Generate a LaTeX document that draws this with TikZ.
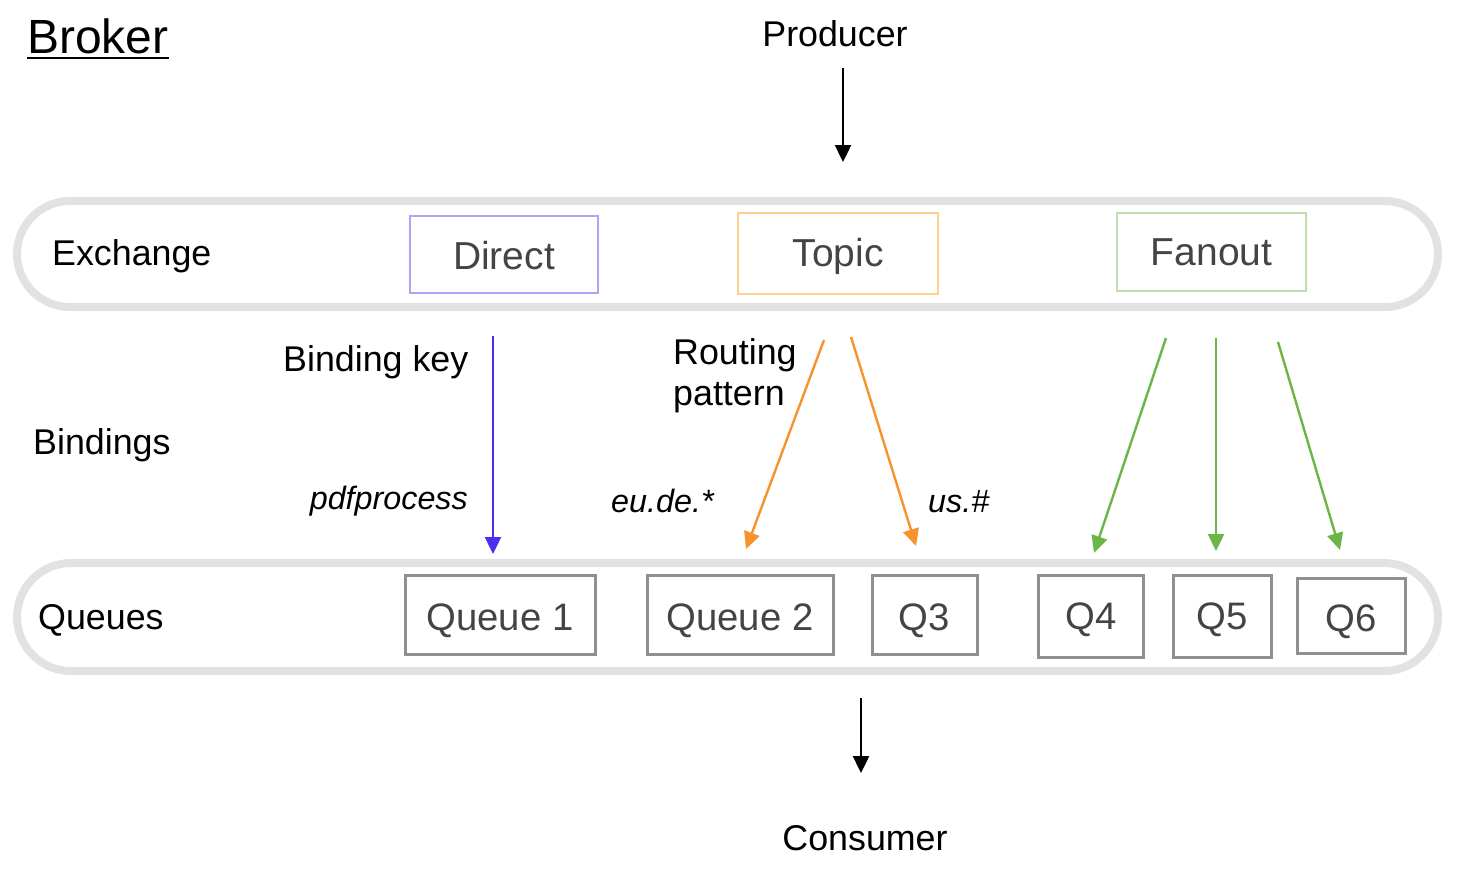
\documentclass[tikz,border=0pt]{standalone}
\usepackage{fontspec}
\setmainfont{Liberation Sans}
\usetikzlibrary{arrows.meta}
\definecolor{bandgray}{HTML}{E1E2E4}
\definecolor{boxgray}{HTML}{8E8F93}
\definecolor{txtgray}{HTML}{444444}
\definecolor{directc}{HTML}{ADA4F4}
\definecolor{topicc}{HTML}{FBD18E}
\definecolor{fanoutc}{HTML}{BCDFAC}
\definecolor{bluearr}{HTML}{4A2FF2}
\definecolor{orangearr}{HTML}{F7922C}
\definecolor{greenarr}{HTML}{6BB646}
\begin{document}
\begin{tikzpicture}[x=1pt,y=-1pt,
  lbl/.style={inner sep=0pt,font=\fontsize{35.8}{40}\selectfont},
  ital/.style={inner sep=0pt,font=\fontsize{32.3}{38}\selectfont\itshape},
  band/.style={draw=bandgray,line width=8pt},
  exbox/.style={draw,line width=2.5pt,inner sep=0pt},
  extext/.style={text=txtgray,inner sep=0pt,anchor=base,font=\fontsize{39}{42}\selectfont},
  qbox/.style={draw=boxgray,line width=3pt,inner sep=0pt},
  qtext/.style={text=txtgray,inner sep=0pt,anchor=base,font=\fontsize{38.3}{42}\selectfont},
  flow/.style={line width=2.4pt,-{Triangle[length=17pt,width=16pt]}}]
\useasboundingbox (0,0) rectangle (1458,868);

% rounded bands for exchanges and queues
\draw[band,rounded corners=53pt] (17,201) rectangle (1438,307);
\draw[band,rounded corners=54pt] (17,563) rectangle (1438,671);

% title
\node[inner sep=0pt,anchor=base west,font=\fontsize{48}{52}\selectfont] (broker) at (27,53) {Broker};
\draw[line width=2pt] ([yshift=-5pt]broker.base west) -- ([yshift=-5pt]broker.base east);

% row labels
\node[lbl,anchor=base] (producer) at (835,46) {Producer};
\node[lbl,anchor=base west] (exchange) at (52,265) {Exchange};
\node[lbl,anchor=base west] (bindings) at (33,454) {Bindings};
\node[lbl,anchor=base west] (queues) at (38,629) {Queues};
\node[lbl,anchor=base] (consumer) at (865,850) {Consumer};

% exchanges
\node[exbox,draw=directc,minimum width=188pt,minimum height=77pt] (direct) at (504,254.5) {};
\node[extext] (directlbl) at (504,269) {Direct};
\node[exbox,draw=topicc,minimum width=200pt,minimum height=81pt] (topic) at (838,253.5) {};
\node[extext] (topiclbl) at (838,266) {Topic};
\node[exbox,draw=fanoutc,minimum width=189pt,minimum height=78pt] (fanout) at (1211.5,252) {};
\node[extext] (fanoutlbl) at (1211.5,265) {Fanout};

% queues
\node[qbox,minimum width=190pt,minimum height=79pt] (q1) at (500,614.5) {};
\node[qtext] (q1lbl) at (500,630) {Queue 1};
\node[qbox,minimum width=186pt,minimum height=79pt] (q2) at (740,614.5) {};
\node[qtext] (q2lbl) at (740,630) {Queue 2};
\node[qbox,minimum width=105pt,minimum height=79pt] (q3) at (924.5,614.5) {};
\node[qtext] (q3lbl) at (924.5,630) {Q3};
\node[qbox,minimum width=105pt,minimum height=82pt] (q4) at (1091,616) {};
\node[qtext] (q4lbl) at (1091,629) {Q4};
\node[qbox,minimum width=98pt,minimum height=82pt] (q5) at (1222,616) {};
\node[qtext] (q5lbl) at (1222,629) {Q5};
\node[qbox,minimum width=108pt,minimum height=75pt] (q6) at (1351,616) {};
\node[qtext] (q6lbl) at (1351,631) {Q6};

% binding labels
\node[lbl,anchor=base west] (bkey) at (283,371) {Binding key};
\node[lbl,anchor=base west] (rout) at (673,364) {Routing};
\node[lbl,anchor=base west] (patt) at (673,405) {pattern};
\node[ital,anchor=base east] (pdf) at (468,509) {pdfprocess};
\node[ital,anchor=base west] (eude) at (611,512) {eu.de.*};
\node[ital,anchor=base west] (ush) at (928,512) {us.\#};

% arrow end points
\coordinate (pa) at (843,68);  \coordinate (pb) at (843,162);
\coordinate (ca) at (861,698); \coordinate (cb) at (861,773);
\coordinate (d1) at (493,336); \coordinate (d2) at (493,554);
\coordinate (t1) at (824,340); \coordinate (t2) at (746,549);
\coordinate (t3) at (851,337); \coordinate (t4) at (916,546);
\coordinate (f1) at (1166,338); \coordinate (f2) at (1094,553);
\coordinate (f3) at (1216,338); \coordinate (f4) at (1216,551);
\coordinate (f5) at (1278,342); \coordinate (f6) at (1340,550);

% message flow
\draw[flow] (pa) -- (pb);
\draw[flow] (ca) -- (cb);
\draw[flow,bluearr] (d1) -- (d2);
\draw[flow,orangearr] (t1) -- (t2);
\draw[flow,orangearr] (t3) -- (t4);
\draw[flow,greenarr] (f1) -- (f2);
\draw[flow,greenarr] (f3) -- (f4);
\draw[flow,greenarr] (f5) -- (f6);
\end{tikzpicture}
\end{document}
